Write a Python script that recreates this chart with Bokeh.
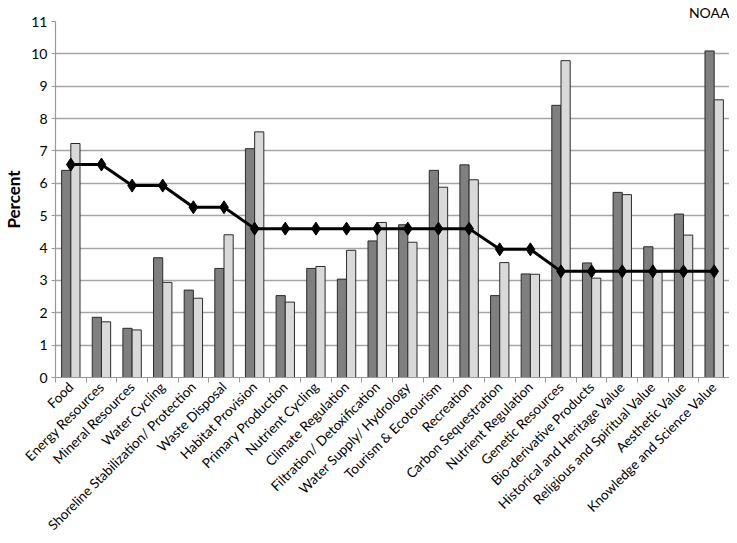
from bokeh.plotting import figure
from bokeh.models import Range1d, FixedTicker, ColumnDataSource
from bokeh.embed import file_html
from bokeh.resources import INLINE
from bokeh.transform import dodge
import math

categories = [
    "Food", "Energy Resources", "Mineral Resources", "Water Cycling",
    "Shoreline Stabilization/ Protection", "Waste Disposal", "Habitat Provision",
    "Primary Production", "Nutrient Cycling", "Climate Regulation",
    "Filtration/ Detoxification", "Water Supply/ Hydrology", "Tourism & Ecotourism",
    "Recreation", "Carbon Sequestration", "Nutrient Regulation", "Genetic Resources",
    "Bio-derivative Products", "Historical and Heritage Value",
    "Religious and Spiritual Value", "Aesthetic Value", "Knowledge and Science Value",
]
series_dark = [6.40, 1.86, 1.52, 3.70, 2.70, 3.37, 7.07, 2.53, 3.37, 3.04, 4.22,
               4.72, 6.40, 6.57, 2.53, 3.20, 8.41, 3.54, 5.72, 4.04, 5.05, 10.09]
series_light = [7.23, 1.72, 1.47, 2.94, 2.45, 4.41, 7.59, 2.33, 3.43, 3.93, 4.79,
                4.18, 5.88, 6.11, 3.55, 3.19, 9.79, 3.07, 5.65, 3.25, 4.40, 8.58]
line_values = [6.58, 6.58, 5.93, 5.93, 5.26, 5.26, 4.60, 4.60, 4.60, 4.60, 4.60,
               4.60, 4.60, 4.60, 3.96, 3.96, 3.28, 3.28, 3.28, 3.28, 3.28, 3.28]
y_ticks = list(range(0, 12))
source_label = "NOAA"
y_label = "Percent"

FONT = "Lato"
n = len(categories)
xs = list(range(n))

p = figure(width=729, height=543, output_backend="svg", toolbar_location=None,
           x_range=Range1d(-0.5, n - 0.5), y_range=Range1d(0, 11),
           min_border_left=49, min_border_right=0, min_border_top=21,
           min_border_bottom=166, title=source_label)
p.outline_line_color = None
p.background_fill_color = "white"
p.title.align = "right"
p.title.text_font = FONT
p.title.text_font_size = "14px"
p.title.text_font_style = "normal"
p.title.text_color = "black"
p.title.standoff = 2
p.title.offset = 0

src = ColumnDataSource(dict(x=xs, dark=series_dark, light=series_light, line=line_values))

p.xgrid.visible = False
p.ygrid.grid_line_color = "#a6a6a6"
p.ygrid.grid_line_width = 1.3
p.ygrid.ticker = FixedTicker(ticks=y_ticks)

p.vbar(x=dodge("x", -0.15), top="dark", width=0.3, bottom=0, source=src,
       fill_color="#7f7f7f", line_color="#2b2b2b", line_width=1)
p.vbar(x=dodge("x", 0.15), top="light", width=0.3, bottom=0, source=src,
       fill_color="#d9d9d9", line_color="#2b2b2b", line_width=1)
p.line(x="x", y="line", source=src, line_color="black", line_width=3)
p.scatter(x="x", y="line", source=src, marker="diamond", size=13,
          fill_color="black", line_color="black")

p.yaxis.ticker = FixedTicker(ticks=y_ticks)
p.yaxis.minor_tick_line_color = None
p.yaxis.major_tick_in = 0
p.yaxis.major_tick_out = 4
p.yaxis.major_tick_line_color = "#999999"
p.yaxis.axis_line_color = "#999999"
p.yaxis.axis_line_width = 1.2
p.yaxis.major_label_text_font = FONT
p.yaxis.major_label_text_font_size = "14px"
p.yaxis.major_label_text_color = "black"
p.yaxis.major_label_standoff = 4
p.yaxis.axis_label = y_label
p.yaxis.axis_label_text_font = FONT
p.yaxis.axis_label_text_font_style = "bold"
p.yaxis.axis_label_text_font_size = "17px"
p.yaxis.axis_label_text_color = "black"
p.yaxis.axis_label_standoff = 4

p.xaxis.ticker = FixedTicker(ticks=xs, minor_ticks=[i - 0.5 for i in range(n + 1)])
p.xaxis.major_label_overrides = {i: c for i, c in enumerate(categories)}
p.xaxis.major_tick_in = 0
p.xaxis.major_tick_out = 0
p.xaxis.minor_tick_in = 0
p.xaxis.minor_tick_out = 5
p.xaxis.minor_tick_line_color = "#999999"
p.xaxis.axis_line_color = "#999999"
p.xaxis.axis_line_width = 1.2
p.xaxis.major_label_orientation = math.pi / 4
p.xaxis.major_label_text_font = FONT
p.xaxis.major_label_text_font_size = "13.5px"
p.xaxis.major_label_text_color = "black"
p.xaxis.major_label_standoff = 2

open("out.html", "w").write(file_html(p, INLINE))
